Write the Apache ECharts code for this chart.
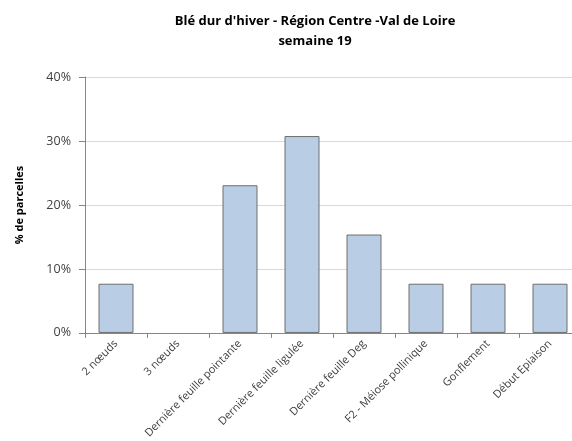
<!DOCTYPE html>
<html>
<head>
<meta charset="utf-8">
<script src="https://cdn.jsdelivr.net/npm/echarts@6/dist/echarts.min.js"></script>
<style>
  html, body { margin: 0; padding: 0; background: #fff; overflow: hidden; }
  /* plus large que la fenêtre : la zone de tracé est coupée à droite comme dans l'original */
  #chart { width: 590px; height: 441px; }
</style>
</head>
<body>
<div id="chart"></div>
<script>
// stades - semaine 19
var stades = ['2 nœuds', '3 nœuds', 'Dernière feuille pointante', 'Dernière feuille ligulée',
  'Dernière feuille Deg', 'F2 - Méiose pollinique', 'Gonflement', 'Début Epiaison'];
var parcelles = [7.69, 0, 23.08, 30.77, 15.38, 7.69, 7.69, 7.69]; // en %
var yTicks = [0, 10, 20, 30, 40];

var chart = echarts.init(document.getElementById('chart'));
var font = '"Open Sans", "Liberation Sans", sans-serif';

// pas de bordure pour les barres à 0 (sinon un trait apparaît sur l'axe)
var barData = parcelles.map(function(v) {
  return v === 0 ? { value: v, itemStyle: { borderWidth: 0 } } : v;
});

chart.setOption({
  animation: false,
  title: {
    text: "Blé dur d'hiver - Région Centre -Val de Loire\nsemaine 19",
    left: 310,
    textAlign: 'center',
    top: 6,
    textStyle: { fontFamily: font, fontSize: 13, fontWeight: 'bold', color: '#000', lineHeight: 20 }
  },
  grid: { left: 85, right: 9, top: 77, bottom: 106.5, containLabel: false },
  xAxis: {
    type: 'category',
    data: stades,
    axisLine: { lineStyle: { color: '#868686' } },
    axisTick: { show: true, length: 5, lineStyle: { color: '#868686' } },
    axisLabel: { rotate: 45, fontFamily: font, fontSize: 11, color: '#404040', margin: 9, interval: 0 }
  },
  yAxis: {
    type: 'value',
    min: yTicks[0],
    max: yTicks[yTicks.length - 1],
    interval: 10,
    name: '% de parcelles',
    nameLocation: 'middle',
    nameGap: 60,
    nameTextStyle: { fontFamily: font, fontSize: 11, fontWeight: 'bold', color: '#000' },
    axisLine: { show: true, lineStyle: { color: '#868686' } },
    axisTick: { show: true, length: 6, lineStyle: { color: '#868686' } },
    axisLabel: { formatter: '{value}%', fontFamily: font, fontSize: 12.5, color: '#404040', margin: 14 },
    splitLine: { lineStyle: { color: '#d9d9d9' } }
  },
  series: [{
    type: 'bar',
    data: barData,
    barWidth: 35,
    itemStyle: { color: '#b9cde5', borderColor: '#6e6e6e', borderWidth: 1 }
  }]
});
</script>
</body>
</html>
